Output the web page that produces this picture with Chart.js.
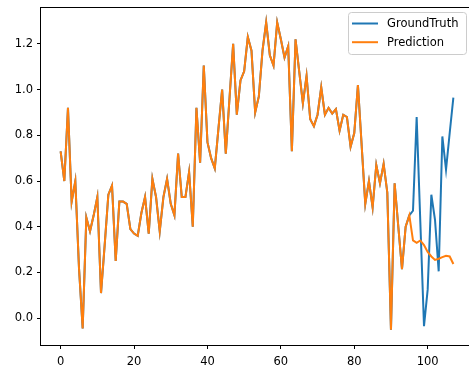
<!DOCTYPE html>
<html>
<head>
<meta charset="utf-8">
<script src="https://cdn.jsdelivr.net/npm/chart.js@4/dist/chart.umd.min.js"></script>
<style>
  html, body { margin: 0; padding: 0; background: #fff; overflow: hidden; }
  #wrap { width: 480px; height: 369px; }
</style>
</head>
<body>
<div id="wrap"><canvas id="chart" width="480" height="369"></canvas></div>
<script>
// Values shared by both series (steps 0..95), then the two diverging tails
const sharedValues = [
  0.73, 0.60, 0.92, 0.51, 0.60, 0.22, -0.045, 0.44, 0.38, 0.45,
  0.53, 0.11, 0.32, 0.54, 0.58, 0.25, 0.51, 0.51, 0.50, 0.39,
  0.37, 0.36, 0.46, 0.53, 0.37, 0.61, 0.53, 0.38, 0.53, 0.61,
  0.50, 0.45, 0.72, 0.53, 0.53, 0.64, 0.40, 0.92, 0.68, 1.105,
  0.77, 0.70, 0.655, 0.83, 1.00, 0.72, 0.96, 1.20, 0.89, 1.04,
  1.08, 1.23, 1.17, 0.90, 0.97, 1.17, 1.294, 1.15, 1.105, 1.294,
  1.22, 1.14, 1.19, 0.73, 1.22, 1.08, 0.94, 1.06, 0.87, 0.84,
  0.89, 1.01, 0.89, 0.92, 0.895, 0.915, 0.82, 0.89, 0.88, 0.75,
  0.81, 1.02, 0.76, 0.50, 0.60, 0.485, 0.67, 0.59, 0.675, 0.55,
  -0.05, 0.59, 0.40, 0.215, 0.40, 0.45
];
const truthTail = [0.47, 0.88, 0.42, -0.035, 0.125, 0.54, 0.43, 0.205, 0.795, 0.65, 0.81, 0.965];
const predictionTail = [0.34, 0.33, 0.34, 0.32, 0.29, 0.27, 0.255, 0.26, 0.267, 0.273, 0.27, 0.237];

const groundTruth = sharedValues.concat(truthTail);
const prediction = sharedValues.concat(predictionTail);
const steps = groundTruth.map((_, i) => i);

const xTicks = [0, 20, 40, 60, 80, 100];
const yTicks = [0.0, 0.2, 0.4, 0.6, 0.8, 1.0, 1.2];

const FONT = { family: "'DejaVu Sans', sans-serif", size: 11.5 };

// matplotlib-style 5% margins around the data
const allY = groundTruth.concat(prediction);
const yLo = Math.min(...allY), yHi = Math.max(...allY);
const yPad = (yHi - yLo) * 0.05;
const xPad = (steps[steps.length - 1] - steps[0]) * 0.05;

const toPoints = (ys) => ys.map((y, i) => ({ x: steps[i], y: y }));

// Fixed axis sizes so the plot area lands where it should
const fixSize = (w, h) => (scale) => {
  if (w != null) scale.width = w;
  if (h != null) scale.height = h;
  scale.paddingTop = 0;
  scale.paddingBottom = 0;
  scale.paddingLeft = 0;
  scale.paddingRight = 0;
};

// Full box around the plot area
const framePlugin = {
  id: "frame",
  afterDatasetsDraw(chart) {
    const { ctx, chartArea: a } = chart;
    ctx.save();
    ctx.strokeStyle = "#000";
    ctx.lineWidth = 1;
    ctx.strokeRect(Math.round(a.left) - 0.5, Math.round(a.top) + 0.5,
      Math.round(a.right - a.left) + 1, Math.round(a.bottom - a.top));
    ctx.restore();
  },
};

// Boxed legend in the upper right corner of the plot area
const cornerLegend = {
  id: "cornerLegend",
  afterDraw(chart) {
    const { ctx, chartArea: a } = chart;
    const boxW = 118, boxH = 42;
    const x0 = a.right - 7 - boxW, y0 = a.top + 5;
    ctx.save();
    ctx.beginPath();
    ctx.roundRect(x0 + 0.5, y0 + 0.5, boxW, boxH, 3);
    ctx.fillStyle = "rgba(255,255,255,0.8)";
    ctx.fill();
    ctx.strokeStyle = "#cccccc";
    ctx.lineWidth = 1;
    ctx.stroke();
    ctx.font = `${FONT.size}px ${FONT.family}`;
    ctx.textBaseline = "middle";
    ctx.fillStyle = "#000";
    chart.data.datasets.forEach((ds, i) => {
      const y = y0 + 11.5 + i * 18.7;
      ctx.strokeStyle = ds.borderColor;
      ctx.lineWidth = 2;
      ctx.beginPath();
      ctx.moveTo(x0 + 4, y);
      ctx.lineTo(x0 + 30, y);
      ctx.stroke();
      ctx.fillText(ds.label, x0 + 39, y + 0.5);
    });
    ctx.restore();
  },
};

new Chart(document.getElementById("chart"), {
  type: "line",
  data: {
    datasets: [
      {
        label: "GroundTruth",
        data: toPoints(groundTruth),
        borderColor: "#1f77b4",
        borderWidth: 2,
        pointRadius: 0,
        tension: 0,
        order: 1,
      },
      {
        label: "Prediction",
        data: toPoints(prediction),
        borderColor: "#ff7f0e",
        borderWidth: 2,
        pointRadius: 0,
        tension: 0,
        order: 0,
      },
    ],
  },
  options: {
    responsive: false,
    animation: false,
    events: [],
    layout: { autoPadding: false, padding: { top: 7, right: 7, left: 0, bottom: 0 } },
    plugins: {
      legend: { display: false },
      title: { display: false },
      tooltip: { enabled: false },
    },
    scales: {
      x: {
        type: "linear",
        min: steps[0] - xPad,
        max: steps[steps.length - 1] + xPad,
        afterBuildTicks: (scale) => {
          scale.ticks = xTicks.map((v) => ({ value: v }));
        },
        afterFit: fixSize(null, 24),
        grid: { drawOnChartArea: false, drawTicks: true, tickLength: 4, color: "#000" },
        border: { display: false },
        ticks: { font: FONT, color: "#000", padding: 6, maxRotation: 0, callback: (v) => v },
      },
      y: {
        type: "linear",
        min: yLo - yPad,
        max: yHi + yPad,
        afterBuildTicks: (scale) => {
          scale.ticks = yTicks.map((v) => ({ value: v }));
        },
        afterFit: fixSize(41, null),
        grid: { drawOnChartArea: false, drawTicks: true, tickLength: 4, color: "#000" },
        border: { display: false },
        ticks: { font: FONT, color: "#000", padding: 4, callback: (v) => v.toFixed(1) },
      },
    },
  },
  plugins: [framePlugin, cornerLegend],
});
</script>
</body>
</html>
